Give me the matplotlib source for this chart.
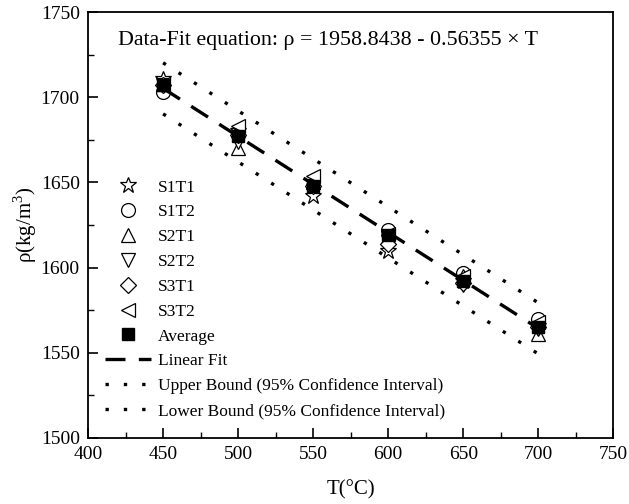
import numpy as np
import matplotlib
matplotlib.use("Agg")
import matplotlib.pyplot as plt
from matplotlib.ticker import MultipleLocator

plt.rcParams['font.family'] = ['Liberation Serif', 'DejaVu Serif']
plt.rcParams['mathtext.fontset'] = 'custom'
plt.rcParams['mathtext.rm'] = 'Liberation Serif'

T = [450, 500, 550, 600, 650, 700]
S1T1 = [1711, 1680, 1642, 1610, 1592, 1566]
S1T2 = [1703, 1678, 1648, 1622, 1597, 1570]
S2T1 = [1708, 1670, 1650, 1618, 1595, 1561]
S2T2 = [1707, 1674, 1648, 1615, 1590, 1564]
S3T1 = [1707, 1678, 1648, 1614, 1591, 1565]
S3T2 = [1708, 1683, 1654, 1620, 1595, 1568]
average = [1707, 1677, 1648, 1619, 1592, 1565]
fit_a, fit_b = 1958.8438, -0.56355
ci_half = 15.0

fig = plt.figure(figsize=(6.29, 5.04), dpi=100)
ax = fig.add_axes([0.140, 0.131, 0.835, 0.845])

ms = 10
kw = dict(linestyle='none', markerfacecolor='white', markeredgecolor='black', markersize=ms, markeredgewidth=0.9)
ax.plot(T, S1T1, marker='*', label='S1T1', **{**kw, 'markersize': 12})
ax.plot(T, S1T2, marker='o', label='S1T2', **kw)
ax.plot(T, S2T1, marker='^', label='S2T1', **kw)
ax.plot(T, S2T2, marker='v', label='S2T2', **kw)
ax.plot(T, S3T1, marker='D', label='S3T1', **{**kw, 'markersize': 8})
ax.plot(T, S3T2, marker='<', label='S3T2', **kw)
ax.plot(T, average, marker='s', linestyle='none', color='black', markersize=8.5, label='Average')

tt = np.array([T[0], T[-1]], dtype=float)
fit = fit_a + fit_b * tt
ax.plot(tt, fit, color='black', linestyle=(0, (6, 4)), linewidth=2.4, label='Linear Fit')
ax.plot(tt, fit + ci_half, color='black', linestyle=(0, (1, 4.5)), linewidth=2.4, label='Upper Bound (95% Confidence Interval)')
ax.plot(tt, fit - ci_half, color='black', linestyle=(0, (1, 4.5)), linewidth=2.4, label='Lower Bound (95% Confidence Interval)')

ax.set_xlim(400, 750)
ax.set_ylim(1500, 1750)
ax.xaxis.set_major_locator(MultipleLocator(50))
ax.xaxis.set_minor_locator(MultipleLocator(25))
ax.yaxis.set_major_locator(MultipleLocator(50))
ax.yaxis.set_minor_locator(MultipleLocator(25))
ax.tick_params(which='both', direction='in', top=False, right=False, labelsize=14)
ax.tick_params(axis='x', which='major', pad=6)
ax.tick_params(axis='y', which='major', pad=6)
ax.tick_params(which='major', length=7, width=1.2)
ax.tick_params(which='minor', length=4, width=1.0)
for s in ax.spines.values():
    s.set_linewidth(1.3)

ax.set_xlabel('T(°C)', fontsize=15, labelpad=12)
ax.set_ylabel(r'ρ(kg/m$^3$)', fontsize=15, labelpad=1)

ax.text(0.457, 0.934, 'Data-Fit equation: ρ = 1958.8438 - 0.56355 × T', transform=ax.transAxes,
        ha='center', va='center', fontsize=15.8)

ax.legend(loc='lower left', bbox_to_anchor=(0.01, 0.016), frameon=False, fontsize=12.5,
          handlelength=2.6, labelspacing=0.5, borderaxespad=0.3, handletextpad=0.4)

fig.savefig('out.png', dpi=100)
